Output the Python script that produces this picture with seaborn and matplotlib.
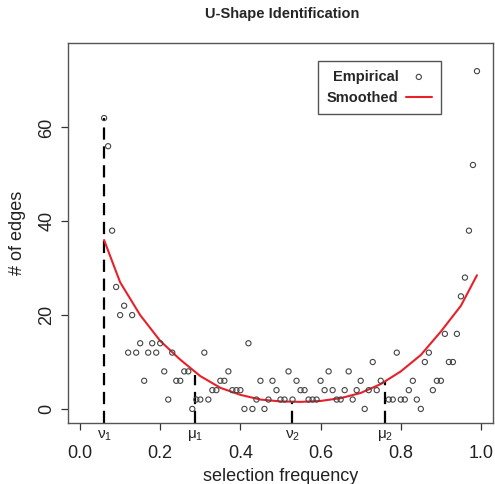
import numpy as np
import pandas as pd
import matplotlib
matplotlib.use("Agg")
import matplotlib.pyplot as plt
import seaborn as sns

# empirical counts per selection frequency
freq = [0.06, 0.07, 0.08, 0.09, 0.10, 0.11, 0.12, 0.13, 0.14, 0.15,
        0.16, 0.17, 0.18, 0.19, 0.20, 0.21, 0.22, 0.23, 0.24, 0.25,
        0.26, 0.27, 0.28, 0.29, 0.30, 0.31, 0.32, 0.33, 0.34, 0.35,
        0.36, 0.37, 0.38, 0.39, 0.40, 0.41, 0.42, 0.43, 0.44, 0.45,
        0.46, 0.47, 0.48, 0.49, 0.50, 0.51, 0.52, 0.53, 0.54, 0.55,
        0.56, 0.57, 0.58, 0.59, 0.60, 0.61, 0.62, 0.63, 0.64, 0.65,
        0.66, 0.67, 0.68, 0.69, 0.70, 0.71, 0.72, 0.73, 0.74, 0.75,
        0.77, 0.78, 0.79, 0.80, 0.81, 0.82, 0.83, 0.84, 0.85, 0.86,
        0.87, 0.88, 0.89, 0.90, 0.91, 0.92, 0.93, 0.94, 0.95, 0.96,
        0.97, 0.98, 0.99]
edges = [62, 56, 38, 26, 20, 22, 12, 20, 12, 14,
         6, 12, 14, 12, 14, 8, 2, 12, 6, 6,
         8, 8, 0, 2, 2, 12, 2, 4, 4, 6,
         6, 8, 4, 4, 4, 0, 14, 0, 2, 6,
         0, 2, 6, 4, 2, 2, 8, 2, 6, 4,
         4, 2, 2, 2, 6, 4, 8, 4, 2, 2,
         4, 8, 2, 4, 6, 0, 4, 10, 4, 6,
         2, 2, 12, 2, 2, 4, 6, 2, 0, 10,
         12, 4, 6, 6, 16, 10, 10, 16, 24, 28,
         38, 52, 72]

# smoothed curve
smooth_x = [0.06, 0.10, 0.15, 0.20, 0.25, 0.30, 0.35, 0.40, 0.45, 0.50,
            0.55, 0.60, 0.65, 0.70, 0.75, 0.80, 0.85, 0.90, 0.95, 0.99]
smooth_y = [36, 27, 20, 14.5, 10.5, 7, 4.5, 3, 2, 1.6,
            1.5, 1.7, 2.3, 3.4, 5.3, 8, 11.5, 16.5, 22, 28.5]

# change points
cut_x = [0.06, 0.287, 0.529, 0.76]
cut_top = [62, 7.3, 1.5, 6]
cut_lab = [r"$\nu_1$", r"$\mu_1$", r"$\nu_2$", r"$\mu_2$"]

sns.set_style("ticks")
plt.rcParams['font.family'] = ['Liberation Sans', 'DejaVu Sans']
plt.rcParams['mathtext.fontset'] = 'custom'
plt.rcParams['mathtext.rm'] = 'Liberation Sans'
plt.rcParams['mathtext.it'] = 'Liberation Sans'

df = pd.DataFrame({"freq": freq, "edges": edges})
sm = pd.DataFrame({"x": smooth_x, "y": smooth_y})

fig = plt.figure(figsize=(4.95, 4.84), dpi=100)
ax = fig.add_axes([68 / 495, 61 / 484, 425 / 495, 380 / 484])

for x, top in zip(cut_x, cut_top):
    ax.plot([x, x], [-3, top], color="black", lw=1.6, dashes=(5.5, 3), zorder=1)

sns.scatterplot(data=df, x="freq", y="edges", ax=ax, marker="o", s=14,
                facecolors="none", edgecolor="#444444", linewidth=0.8,
                label="Empirical", zorder=3)
sns.lineplot(data=sm, x="x", y="y", ax=ax, color="#e8202a", lw=1.5,
             label="Smoothed", zorder=2)

ax.set_xlim(-0.03, 1.03)
ax.set_ylim(-3, 78)
ax.set_xticks([0.0, 0.2, 0.4, 0.6, 0.8, 1.0])
ax.set_xticklabels(["0.0", "0.2", "0.4", "0.6", "0.8", "1.0"])
ax.set_yticks([0, 20, 40, 60])
ax.set_yticklabels(["0", "20", "40", "60"], rotation=90, va="center")
ax.tick_params(axis="both", labelsize=13, length=5, width=0.9,
               color="#333333", labelcolor="#222222")
ax.tick_params(axis="x", pad=11)
ax.tick_params(axis="y", pad=4)
for sp in ax.spines.values():
    sp.set_visible(True)
    sp.set_color("#555555")
    sp.set_linewidth(1.0)

for x, lab in zip(cut_x, cut_lab):
    ax.annotate(lab, xy=(x, 0), xycoords=("data", "axes fraction"),
                xytext=(0, -9), textcoords="offset points",
                ha="center", va="center", fontsize=11, color="#222222")

ax.set_xlabel("selection frequency", fontsize=13, color="#222222", labelpad=4)
ax.set_ylabel("# of edges", fontsize=13, color="#222222", labelpad=9)
fig.text(282 / 495, 1 - 14 / 484, "U-Shape Identification", ha="center",
         va="center", fontsize=10.5, fontweight="bold")

leg = ax.legend(loc="upper left", bbox_to_anchor=(318 / 495, 1 - 61 / 484),
                bbox_transform=fig.transFigure, markerfirst=False,
                fancybox=False, framealpha=1, edgecolor="#555555",
                prop={"weight": "bold", "size": 10.5}, handlelength=1.8,
                handletextpad=0.5, borderpad=0.6, labelspacing=0.5,
                borderaxespad=0)
leg.get_frame().set_linewidth(1.0)

fig.savefig("out.png", dpi=100)
